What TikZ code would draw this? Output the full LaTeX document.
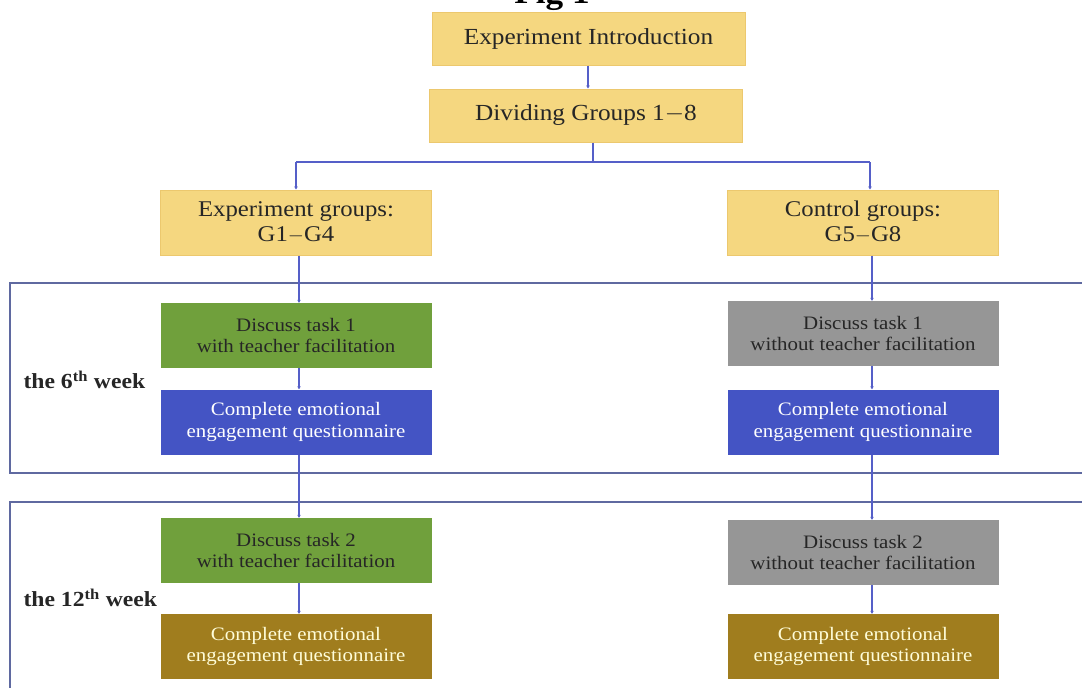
\documentclass[tikz,border=0pt]{standalone}
\usepackage{fontspec}
\setmainfont[FakeStretch=1.1]{Liberation Serif}
\usetikzlibrary{arrows.meta}
\definecolor{ylw}{RGB}{245,215,128}
\definecolor{ylwb}{RGB}{236,200,110}
\definecolor{grn}{RGB}{112,160,60}
\definecolor{blu}{RGB}{68,84,196}
\definecolor{gry}{RGB}{150,150,150}
\definecolor{brn}{RGB}{160,125,30}
\definecolor{conn}{RGB}{85,95,200}
\definecolor{frm}{RGB}{95,105,160}
\tikzset{
  topbox/.style={fill=ylw,draw=ylwb,line width=1pt,minimum width=313pt,minimum height=53pt,align=center,font=\fontsize{23}{26}\selectfont,text=black!85},
  grpbox/.style={fill=ylw,draw=ylwb,line width=1pt,minimum width=271pt,minimum height=65pt,align=center,font=\fontsize{22.5}{25}\selectfont,text=black!85},
  lowbox/.style={minimum width=271pt,minimum height=65pt,align=center,font=\fontsize{19}{21.5}\selectfont,inner sep=0pt},
  greenbox/.style={lowbox,fill=grn,text=black!85},
  bluebox/.style={lowbox,fill=blu,text=white},
  graybox/.style={lowbox,fill=gry,text=black!85},
  brownbox/.style={lowbox,fill=brn,text=yellow!15},
  conn/.style={draw=conn,line width=1.3pt,-{Stealth[length=3pt,width=3.5pt]}},
  plain/.style={draw=conn,line width=1.3pt},
  frame/.style={draw=frm,line width=2pt},
  weeklbl/.style={font=\fontsize{21.5}{24}\selectfont\bfseries,anchor=west,text=black!85}
}
\begin{document}
\begin{tikzpicture}[x=1pt,y=-1pt]
\clip (0,0) rectangle (1082,688);
\useasboundingbox (0,0) rectangle (1082,688);
\fill[white] (0,0) rectangle (1082,688);
% title
\node[anchor=base,font=\fontsize{32}{34}\selectfont\bfseries,inner sep=0pt] (title) at (552,4) {Fig 1};
% frames
\draw[frame] (1090,283) -- (10,283) -- (10,473) -- (1090,473);
\draw[frame] (1090,502) -- (10,502) -- (10,700);
% boxes
\node[topbox] (intro) at (588.5,38.5) {Experiment Introduction};
\node[topbox] (div) at (586,115.5) {Dividing Groups 1$-$8};
\node[grpbox] (exp) at (296,222.5) {Experiment groups:\\G1$-$G4};
\node[grpbox] (ctrl) at (863,222.5) {Control groups:\\G5$-$G8};
\node[greenbox] (g1) at (296,335.5) {Discuss task 1\\with teacher facilitation};
\node[bluebox] (b1) at (296,422) {Complete emotional\\engagement questionnaire};
\node[graybox] (r1) at (863,333.5) {Discuss task 1\\without teacher facilitation};
\node[bluebox] (rb1) at (863,422) {Complete emotional\\engagement questionnaire};
\node[greenbox] (g2) at (296,550.5) {Discuss task 2\\with teacher facilitation};
\node[brownbox] (br2) at (296,646.5) {Complete emotional\\engagement questionnaire};
\node[graybox] (r2) at (863,552.5) {Discuss task 2\\without teacher facilitation};
\node[brownbox] (rbr2) at (863,646.5) {Complete emotional\\engagement questionnaire};
% week labels
\node[weeklbl] (w6) at (20,380) {the 6\textsuperscript{th} week};
\node[weeklbl] (w12) at (20,598) {the 12\textsuperscript{th} week};
% connectors
\coordinate (colT) at (588,0);
\coordinate (colL) at (299,0);
\coordinate (colR) at (872,0);
\coordinate (split) at (593,162);
\coordinate (hl) at (296,162);
\coordinate (hr) at (870,162);
\draw[conn] (intro.south -| colT) -- (div.north -| colT);
\draw[plain] (div.south -| split) -- (split);
\draw[plain] (hl) -- (hr);
\draw[conn] (hl) -- (exp.north);
\draw[conn] (hr) -- (hr |- ctrl.north);
\draw[conn] (exp.south -| colL) -- (g1.north -| colL);
\draw[conn] (g1.south -| colL) -- (b1.north -| colL);
\draw[conn] (b1.south -| colL) -- (g2.north -| colL);
\draw[conn] (g2.south -| colL) -- (br2.north -| colL);
\draw[conn] (ctrl.south -| colR) -- (r1.north -| colR);
\draw[conn] (r1.south -| colR) -- (rb1.north -| colR);
\draw[conn] (rb1.south -| colR) -- (r2.north -| colR);
\draw[conn] (r2.south -| colR) -- (rbr2.north -| colR);
\end{tikzpicture}
\end{document}
